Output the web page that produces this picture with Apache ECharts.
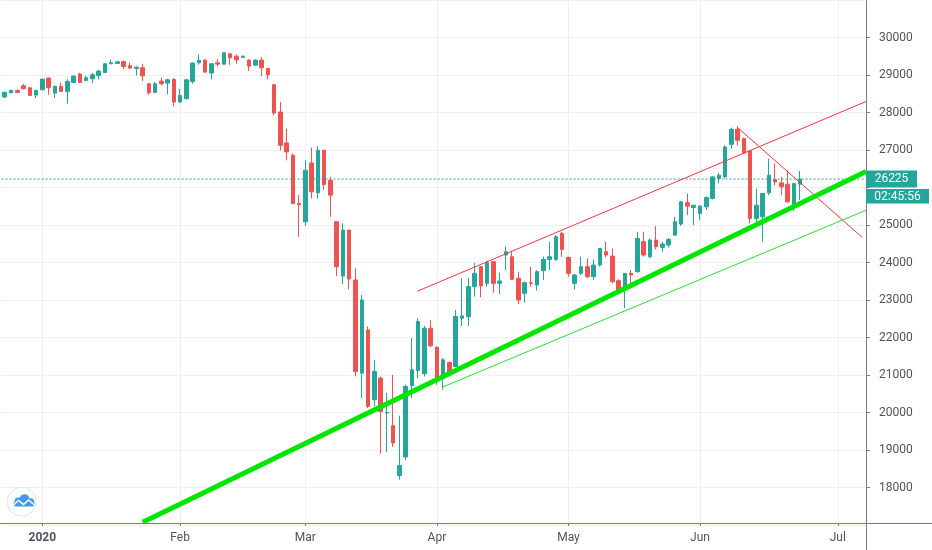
<!DOCTYPE html>
<html>
<head>
<meta charset="utf-8">
<title>DJI</title>
<script src="https://cdn.jsdelivr.net/npm/echarts@6/dist/echarts.min.js"></script>
<style>
    html, body { margin: 0; padding: 0; background: #ffffff; }
    #main { width: 932px; height: 550px; }
</style>
</head>
<body>
<div id="main"></div>
<script>
// bars on the time axis, incl. the empty space right of the last candle
var barCount = 138;
var monthStarts = [6, 28, 48, 69, 90, 111, 133];
var monthNames = ['2020', 'Feb', 'Mar', 'Apr', 'May', 'Jun', 'Jul'];

var opens = [
    28412, 28527, 28589, 28713, 28660, 28465, 28607, 28917, 28518, 28696,
    28563, 28802, 29024, 28855, 28900, 28980, 29068, 29299, 29308, 29361,
    29246, 29175, 29193, 28767, 28536, 28838, 28784, 28882, 28279, 28368,
    28829, 29326, 29397, 29051, 29326, 29290, 29565, 29503, 29467, 29397,
    29263, 29397, 29175, 28740, 28013, 27188, 26860, 25574, 25086, 26656,
    25858, 26993, 26195, 25086, 23640, 24864, 23534, 21050, 22203, 20340,
    20917, 19986, 19649, 18318, 18815, 20713, 21121, 21032, 22248, 21742,
    20917, 21334, 21227, 22514, 22558, 23356, 23888, 23445, 24021, 23445,
    24199, 24154, 23578, 23179, 23462, 23400, 23782, 24083, 24083, 24775,
    24137, 23445, 23711, 23888, 23622, 23932, 24287, 24172, 23516, 23267,
    23711, 23755, 24553, 24154, 24598, 24403, 24465, 24731, 25024, 25591,
    25467, 25307, 25485, 25707, 26239, 26283, 27152, 27552, 27303, 26975,
    25174, 25219, 25857, 26212, 26124, 26088, 25503, 26088
];
var closes = [
    28536, 28589, 28536, 28634, 28456, 28589, 28891, 28660, 28696, 28563,
    28829, 28971, 28802, 28926, 29006, 29104, 29299, 29326, 29352, 29228,
    29184, 29210, 28980, 28527, 28767, 28767, 28873, 28279, 28456, 28873,
    29317, 29388, 29077, 29299, 29290, 29592, 29459, 29405, 29503, 29237,
    29397, 29193, 29006, 27987, 27126, 26949, 25574, 25540, 26461, 25884,
    26993, 26080, 25796, 23889, 24864, 23560, 21094, 23001, 20163, 21094,
    20030, 20003, 19187, 18584, 20695, 21139, 22425, 22248, 21777, 20873,
    21405, 21050, 22558, 22576, 23356, 23711, 23374, 23995, 23445, 23507,
    24287, 23551, 23001, 23462, 23445, 23755, 24083, 24154, 24686, 24349,
    23711, 23666, 23888, 23622, 23932, 24376, 24199, 23489, 23267, 23711,
    23666, 24642, 24199, 24598, 24420, 24491, 24616, 25086, 25618, 25503,
    25529, 25503, 25733, 26283, 26328, 27081, 27552, 27259, 26922, 25174,
    25529, 25840, 26328, 26150, 26017, 25618, 26106, 26225
];
var lows = [
    28385, 28510, 28518, 28616, 28438, 28385, 28589, 28474, 28385, 28545,
    28235, 28784, 28784, 28829, 28784, 28882, 29059, 29290, 29290, 29157,
    29166, 28988, 28838, 28465, 28518, 28722, 28483, 28164, 28261, 28350,
    28767, 29272, 29059, 28882, 29228, 29272, 29264, 29299, 29459, 29104,
    29246, 28962, 28882, 27924, 26993, 26727, 25556, 24687, 24980, 25707,
    25707, 25929, 25219, 23640, 23427, 23285, 20961, 20385, 20119, 20163,
    18903, 18939, 19081, 18212, 18726, 20385, 20917, 20961, 21742, 20740,
    20607, 21006, 21210, 22310, 22310, 23090, 23072, 23356, 23196, 23161,
    23799, 23533, 22895, 22930, 23356, 23250, 23534, 23800, 24048, 24154,
    23622, 23285, 23666, 23578, 23533, 23888, 24137, 23445, 23196, 22780,
    23311, 23729, 24154, 24110, 24349, 24287, 24400, 24705, 24970, 25263,
    24997, 25130, 25400, 25680, 26106, 26239, 27037, 27126, 26904, 25041,
    25041, 24553, 25795, 26062, 25795, 25591, 25378, 25662
];
var highs = [
    28563, 28607, 28616, 28767, 28678, 28607, 28900, 28935, 28722, 28793,
    28891, 28988, 29059, 28971, 29051, 29139, 29317, 29405, 29379, 29379,
    29326, 29228, 29299, 28784, 28811, 28926, 28900, 28917, 28634, 28900,
    29334, 29547, 29414, 29317, 29423, 29600, 29583, 29547, 29512, 29423,
    29414, 29476, 29193, 28767, 28279, 27570, 26904, 25796, 26727, 27064,
    27100, 27011, 26284, 25086, 25042, 24864, 23844, 23134, 22292, 21405,
    20961, 20518, 21006, 19915, 20740, 21982, 22514, 22310, 22469, 21760,
    21449, 21360, 22736, 23578, 23578, 23990, 23906, 24048, 24048, 23728,
    24420, 24314, 23755, 23489, 23888, 23800, 24154, 24553, 24731, 24820,
    24154, 23693, 24154, 24110, 24083, 24376, 24553, 24376, 23551, 23711,
    23800, 24820, 24820, 24642, 24970, 24553, 24650, 25219, 25645, 25840,
    25529, 25529, 25760, 26310, 26390, 27126, 27596, 27631, 27330, 26993,
    25973, 25857, 26771, 26638, 26283, 26461, 26124, 26443
];

var lastPrice = 26225;
var timeLeft = '02:45:56';

// drawn trend lines, [bar index, price]
var thickGreenLine = [[22.03, 17071], [137.5, 26428]];
var thinGreenLine = [[69.93, 20680], [137.5, 25394]];
var redChannelLine = [[65.88, 23234], [137.5, 28293]];
var redDownLine = [[116.88, 27616], [136.89, 24671]];

var upColor = '#26a69a';
var downColor = '#ef5350';
var textColor = '#50535e';
var lineGray = '#787b86';
var gridColor = '#eceff4';
var fontName = 'Roboto, "DejaVu Sans", sans-serif';

var categories = [];
for (var i = 0; i < barCount; i++) {
    categories.push(String(i));
}
var candleData = [];
for (var j = 0; j < opens.length; j++) {
    candleData.push([opens[j], closes[j], lows[j], highs[j]]);
}

function isMonthStart(index) {
    return monthStarts.indexOf(index) >= 0;
}

function trendSeries(points, color, width, type) {
    return {
        type: 'line',
        xAxisIndex: 1,
        yAxisIndex: 0,
        data: points,
        symbol: 'none',
        silent: true,
        z: 3,
        lineStyle: { color: color, width: width, type: type || 'solid' }
    };
}

var myChart = echarts.init(document.getElementById('main'));

var option = {
    animation: false,
    backgroundColor: '#ffffff',
    grid: { left: 1.6, right: 66, top: -1.18, bottom: 25 },
    xAxis: [
        {
            type: 'category',
            data: categories,
            boundaryGap: true,
            offset: -2,
            axisLine: { show: false, onZero: false },
            axisTick: {
                show: true, alignWithLabel: true, interval: isMonthStart,
                length: 3, lineStyle: { color: lineGray }
            },
            axisLabel: {
                interval: isMonthStart,
                margin: 9,
                color: textColor,
                fontSize: 12,
                fontFamily: fontName,
                formatter: function (value, index) {
                    var k = monthStarts.indexOf(index);
                    if (k < 0) return '';
                    return k === 0 ? '{b|' + monthNames[k] + '}' : monthNames[k];
                },
                rich: {
                    b: { fontWeight: 'bold', fontSize: 12, color: textColor, fontFamily: fontName }
                }
            },
            splitLine: {
                show: true, interval: isMonthStart, alignWithLabel: true,
                lineStyle: { color: gridColor, width: 1 }
            }
        },
        {
            // helper axis for the drawn lines, same span as the bars
            type: 'value',
            min: -0.5,
            max: barCount - 0.5,
            show: false,
            axisLine: { onZero: false }
        }
    ],
    yAxis: {
        type: 'value',
        position: 'right',
        min: 17000,
        max: 31000,
        interval: 1000,
        axisLine: { show: false, onZero: false },
        axisTick: { show: true, length: 4, lineStyle: { color: lineGray } },
        axisLabel: {
            margin: 13,
            color: textColor,
            fontSize: 12,
            fontFamily: fontName,
            showMinLabel: false,
            showMaxLabel: false,
            formatter: function (v) {
                return v === 26000 ? '' : String(v);
            }
        },
        splitLine: { show: true, lineStyle: { color: gridColor, width: 1 } }
    },
    series: [
        // last price line
        trendSeries([[-0.5, lastPrice], [barCount - 0.5, lastPrice]], upColor, 1, [2, 2]),
        {
            type: 'candlestick',
            data: candleData,
            barWidth: 4,
            z: 2,
            itemStyle: {
                color: upColor,
                color0: downColor,
                borderColor: upColor,
                borderColor0: downColor,
                borderWidth: 1
            }
        },
        trendSeries(redChannelLine, '#f23645', 1),
        trendSeries(redDownLine, '#f23645', 1),
        trendSeries(thinGreenLine, '#2fdc2f', 1),
        trendSeries(thickGreenLine, '#00e600', 5)
    ]
};
myChart.setOption(option);

// price scale frame, last price tag and logo
var py = myChart.convertToPixel({ yAxisIndex: 0 }, lastPrice);
myChart.setOption({
    graphic: [
        { type: 'line', z: 50, shape: { x1: 0, y1: 523.5, x2: 932, y2: 523.5 }, style: { stroke: lineGray, lineWidth: 1 } },
        { type: 'line', z: 50, shape: { x1: 866.5, y1: 0, x2: 866.5, y2: 550 }, style: { stroke: lineGray, lineWidth: 1 } },
        { type: 'rect', z: 60, shape: { x: 866, y: py - 8.5, width: 51, height: 17 }, style: { fill: upColor } },
        {
            type: 'text', z: 61, x: 891.5, y: py,
            style: { text: String(lastPrice), fill: '#ffffff', font: '12px ' + fontName, textAlign: 'center', textVerticalAlign: 'middle' }
        },
        { type: 'rect', z: 60, shape: { x: 866, y: py + 10, width: 63, height: 14.5 }, style: { fill: upColor } },
        {
            type: 'text', z: 61, x: 897.5, y: py + 17.5,
            style: { text: timeLeft, fill: '#ffffff', font: '12px ' + fontName, textAlign: 'center', textVerticalAlign: 'middle' }
        },
        { type: 'circle', z: 60, shape: { cx: 21.7, cy: 501.7, r: 14.5 }, style: { fill: '#ffffff', stroke: '#e0e3eb', lineWidth: 1 } },
        { type: 'circle', z: 61, shape: { cx: 18.5, cy: 501.5, r: 4 }, style: { fill: '#3d9be9' } },
        { type: 'circle', z: 61, shape: { cx: 24.5, cy: 499, r: 4.8 }, style: { fill: '#3d9be9' } },
        { type: 'circle', z: 61, shape: { cx: 30.5, cy: 502, r: 3.8 }, style: { fill: '#3d9be9' } },
        { type: 'rect', z: 61, shape: { x: 13.5, y: 501.5, width: 21, height: 5, r: 2.5 }, style: { fill: '#3d9be9' } },
        {
            type: 'polyline', z: 62,
            shape: { points: [[13, 505.5], [18.5, 500.5], [23.5, 504.5], [28.5, 500], [34.5, 505]] },
            style: { stroke: '#ffffff', lineWidth: 1.6, fill: null }
        }
    ]
});
</script>
</body>
</html>
